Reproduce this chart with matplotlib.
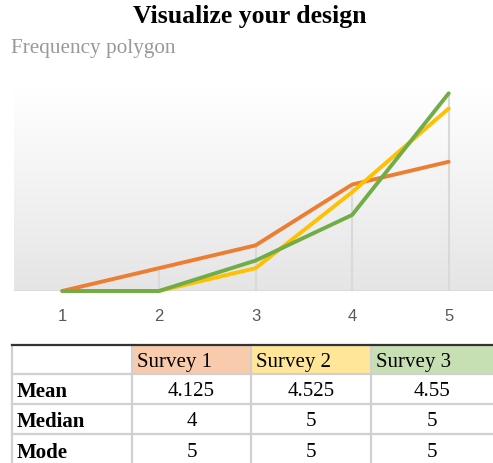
import matplotlib.pyplot as plt
import numpy as np
from matplotlib.colors import LinearSegmentedColormap
from matplotlib.patches import Rectangle

# frequency counts for ratings 1..5
ratings = [1, 2, 3, 4, 5]
survey1 = [0, 3, 6, 14, 17]
survey2 = [0, 0, 3, 13, 24]
survey3 = [0, 0, 4, 10, 26]

series_names = ['Survey 1', 'Survey 2', 'Survey 3']
line_colors = ['#ED7D31', '#FFC000', '#70AD47']
header_fills = ['#F8CBAD', '#FFE699', '#C6E0B4']

row_labels = ['Mean', 'Median', 'Mode']
means = ['4.125', '4.525', '4.55']
medians = ['4', '5', '5']
modes = ['5', '5', '5']

W, H = 493, 463
fig = plt.figure(figsize=(W / 100, H / 100), dpi=100)

fig.text(250 / W, 1 - 16 / H, 'Visualize your design', ha='center', va='center',
         fontsize=18.5, fontweight='bold', family='Liberation Serif')
fig.text(11 / W, 1 - 48 / H, 'Frequency polygon', ha='left', va='center',
         fontsize=15.3, color='#999999', family='Liberation Serif')

# chart area
left, right, top, bottom = 14, 497, 88, 291
ax = fig.add_axes([left / W, 1 - bottom / H, (right - left) / W, (bottom - top) / H])
ax.set_xlim(0.5, 5.5)
ax.set_ylim(0, 26.7)

grad = LinearSegmentedColormap.from_list('bg', ['#E5E5E5', '#FFFFFF'])
ax.imshow(np.linspace(0, 1, 256).reshape(-1, 1), cmap=grad, aspect='auto',
          extent=[0.5, 5.5, 0, 26.7], origin='lower', zorder=0)

all_series = [survey1, survey2, survey3]
tops = np.max(np.array(all_series), axis=0)
ax.vlines(ratings[1:], 0, tops[1:], color='#D9D9D9', lw=1.5, zorder=1)
ax.axhline(0, color='#D9D9D9', lw=2, zorder=1)

for vals, c in zip(all_series, line_colors):
    ax.plot(ratings, vals, color=c, lw=2.8, solid_capstyle='round',
            solid_joinstyle='round', zorder=3, clip_on=False)

ax.set_xticks(ratings)
ax.set_xticklabels([str(r) for r in ratings], family='Liberation Sans',
                   fontsize=12, color='#595959')
ax.tick_params(axis='x', length=0, pad=13)
ax.set_yticks([])
for s in ax.spines.values():
    s.set_visible(False)

# summary table
tab = fig.add_axes([0, 0, 1, 1])
tab.set_xlim(0, W)
tab.set_ylim(H, 0)
tab.axis('off')

col_x = [12, 132, 251, 371, 493]
row_y = [345, 374, 404, 434, 465]
grid_c = '#D0D0D0'

for i, fc in enumerate(header_fills):
    tab.add_patch(Rectangle((col_x[i + 1], row_y[0]), col_x[i + 2] - col_x[i + 1],
                            row_y[1] - row_y[0], facecolor=fc, edgecolor='none'))

for y in row_y[1:4]:
    tab.plot([col_x[0], W], [y, y], color=grid_c, lw=1.6)
for x in col_x[:4]:
    tab.plot([x, x], [row_y[0], H], color=grid_c, lw=1.6)
tab.plot([col_x[0], W], [row_y[0], row_y[0]], color='#333333', lw=1.6)

for i, name in enumerate(series_names):
    tab.text(col_x[i + 1] + 5, (row_y[0] + row_y[1]) / 2 + 2.5, name, ha='left',
             va='center', fontsize=15, family='Liberation Serif')

table_rows = [means, medians, modes]
for r, (lab, vals) in enumerate(zip(row_labels, table_rows)):
    yc = (row_y[r + 1] + row_y[r + 2]) / 2 + 3
    tab.text(col_x[0] + 5, yc, lab, ha='left', va='center', fontsize=15,
             fontweight='bold', family='Liberation Serif')
    for j, v in enumerate(vals):
        tab.text((col_x[j + 1] + col_x[j + 2]) / 2, yc, v, ha='center',
                 va='center', fontsize=15, family='Liberation Serif')

fig.savefig('out.png', dpi=100)
